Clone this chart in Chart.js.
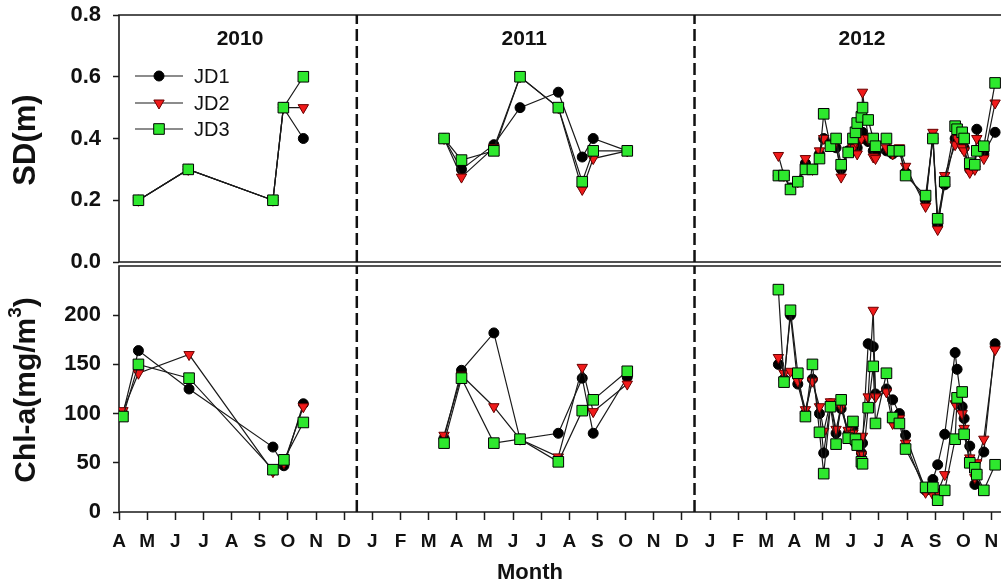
<!DOCTYPE html>
<html><head><meta charset="utf-8">
<script src="https://cdn.jsdelivr.net/npm/chart.js@4.4.1/dist/chart.umd.min.js"></script>
<style>
html,body{margin:0;padding:0;background:#fff;}
#wrap{position:relative;width:1001px;height:585px;overflow:hidden;}
canvas{position:absolute;left:0;top:0;}
</style></head><body>
<div id="wrap"><canvas id="cBot" width="1001" height="585"></canvas><canvas id="cTop" width="1001" height="585"></canvas></div>
<script>
// ---------- DATA ----------
const monthLabels = ['A','M','J','J','A','S','O','N','D','J','F','M','A','M','J','J','A','S','O','N','D','J','F','M','A','M','J','J','A','S','O','N'];
const yearTitles = ['2010','2011','2012'];
const yearBreaks = [8.45, 20.45];
const seriesNames = ['JD1','JD2','JD3'];
const sdTicks = [0, 0.2, 0.4, 0.6, 0.8];
const chlTicks = [0, 50, 100, 150, 200];

// month index (0 = April 2010); null separates years
const sdDates = [0.69, 2.46, 5.47, 5.84, 6.55, null,
  11.55, 12.17, 13.32, 14.25, 15.61, 16.46, 16.85, 18.06, null,
  23.43, 23.63, 23.86, 24.12, 24.39, 24.64, 24.89, 25.04, 25.28, 25.48, 25.66, 25.91, 26.08, 26.17, 26.23, 26.38, 26.42, 26.62, 26.80, 26.88, 27.27, 27.49, 27.73, 27.95, 28.66, 28.92, 29.09, 29.34, 29.71, 29.78, 29.96, 30.03, 30.23, 30.41, 30.48, 30.73, 31.13];
const sdJD1 = [0.2, 0.3, 0.2, 0.5, 0.4, null,
  0.40, 0.30, 0.38, 0.50, 0.55, 0.34, 0.40, 0.36, null,
  0.28, 0.28, 0.24, 0.26, 0.32, 0.30, 0.35, 0.40, 0.38, 0.37, 0.30, 0.36, 0.38, 0.36, 0.37, 0.40, 0.42, 0.39, 0.36, 0.35, 0.36, 0.35, 0.36, 0.29, 0.20, 0.40, 0.12, 0.25, 0.40, 0.39, 0.38, 0.37, 0.30, 0.31, 0.43, 0.35, 0.42];
const sdJD2 = [0.2, 0.3, 0.2, 0.5, 0.5, null,
  0.40, 0.275, 0.37, 0.60, 0.50, 0.235, 0.335, 0.36, null,
  0.345, 0.28, 0.24, 0.26, 0.335, 0.30, 0.36, 0.40, 0.38, 0.39, 0.275, 0.36, 0.37, 0.39, 0.35, 0.40, 0.55, 0.40, 0.34, 0.335, 0.37, 0.35, 0.37, 0.31, 0.18, 0.42, 0.105, 0.28, 0.38, 0.40, 0.37, 0.36, 0.29, 0.30, 0.40, 0.335, 0.515];
const sdJD3 = [0.2, 0.3, 0.2, 0.5, 0.6, null,
  0.40, 0.33, 0.36, 0.60, 0.50, 0.26, 0.36, 0.36, null,
  0.28, 0.28, 0.235, 0.26, 0.30, 0.30, 0.335, 0.48, 0.375, 0.40, 0.315, 0.355, 0.40, 0.42, 0.45, 0.47, 0.50, 0.46, 0.40, 0.375, 0.40, 0.36, 0.36, 0.28, 0.215, 0.40, 0.14, 0.26, 0.44, 0.43, 0.42, 0.40, 0.32, 0.315, 0.36, 0.375, 0.58];

const chlDates = [0.14, 0.69, 2.49, 5.47, 5.86, 6.55, null,
  11.55, 12.17, 13.32, 14.25, 15.61, 16.46, 16.85, 18.06, null,
  23.43, 23.63, 23.86, 24.12, 24.39, 24.64, 24.89, 25.04, 25.28, 25.48, 25.66, 25.91, 26.08, 26.17, 26.23, 26.38, 26.42, 26.62, 26.80, 26.88, 27.27, 27.49, 27.73, 27.95, 28.66, 28.92, 29.09, 29.34, 29.71, 29.78, 29.96, 30.03, 30.23, 30.41, 30.48, 30.73, 31.13];
const chlJD1 = [100, 164, 125, 66, 47, 110, null,
  75, 144, 182, 74, 80, 136, 80, 137, null,
  150, 135, 200, 130, 100, 135, 100, 60, 110, 80, 105, 80, 85, 70, 75, 60, 70, 171, 168, 120, 125, 114, 100, 78, 22, 33, 48, 79, 162, 145, 107, 95, 67, 28, 40, 61, 171];
const chlJD2 = [103, 141, 160, 41, 50, 107, null,
  78, 139, 107, 74, 56, 147, 102, 130, null,
  157, 141, 143, 133, 104, 133, 107, 82, 112, 84, 107, 83, 80, 75, 72, 58, 77, 117, 205, 117, 122, 90, 95, 70, 20, 18, 20, 38, 110, 115, 100, 85, 55, 35, 50, 74, 165];
const chlJD3 = [97, 150, 136, 43, 53, 91, null,
  70, 136, 70, 74, 51, 103, 114, 143, null,
  226, 132, 205, 141, 97, 150, 81, 39, 107, 69, 114, 75, 92, 74, 68, 51, 49, 106, 148, 90, 141, 96, 90, 64, 25, 25, 12, 22, 74, 116, 122, 79, 50, 45, 38, 22, 48];

// ---------- STYLE ----------
const FONT = "'Liberation Sans', Arial, sans-serif";
const INK = '#1a1a1a';
const X_MIN = 0, X_MAX = 31.34;
const styles = [
  { pointStyle: 'circle', pointRadius: 5, pointBackgroundColor: '#000', pointBorderColor: '#000', pointRotation: 0, order: 3 },
  { pointStyle: 'triangle', pointRadius: 6, pointBackgroundColor: '#f01a1a', pointBorderColor: '#6a0000', pointRotation: 180, order: 2 },
  { pointStyle: 'rect', pointRadius: 7.5, pointBackgroundColor: '#2ee82e', pointBorderColor: '#000', pointRotation: 0, order: 1 }
];

function toPoints(dates, vals) {
  return dates.map((d, i) => ({ x: d === null ? dates[i - 1] + 0.01 : d, y: d === null ? null : vals[i] }));
}
function seriesSets(dates, lists) {
  return lists.map((vals, k) => Object.assign({
    label: seriesNames[k], data: toPoints(dates, vals),
    borderColor: INK, borderWidth: 1.2, pointBorderWidth: 1, tension: 0, spanGaps: false, fill: false
  }, styles[k]));
}
function breakSets(ymin, ymax) {
  return yearBreaks.map(b => ({
    label: 'break', data: [{ x: b, y: ymin }, { x: b, y: ymax }],
    borderColor: '#111', borderWidth: 2.5, borderDash: [12, 5], pointRadius: 0, order: 10, clip: false
  }));
}
function xScale(show) {
  return {
    type: 'linear', min: X_MIN, max: X_MAX, display: show,
    afterBuildTicks: s => { s.ticks = monthLabels.map((_, i) => ({ value: i })); },
    afterFit: s => { s.paddingLeft = 0; s.paddingRight = 0; if (show) s.height = 73; },
    grid: { drawOnChartArea: false, drawTicks: true, tickLength: 8, tickColor: INK, tickWidth: 1.5 },
    border: { display: false },
    ticks: { autoSkip: false, maxRotation: 0, minRotation: 0, padding: 10, color: '#111',
      font: { family: FONT, size: 19, weight: 'bold' }, callback: v => monthLabels[Math.round(v)] }
  };
}
function yScale(min, max, ticks, fmt) {
  return {
    type: 'linear', min: min, max: max,
    afterBuildTicks: s => { s.ticks = ticks.map(v => ({ value: v })); },
    afterFit: s => { s.width = 119; s.paddingTop = 0; s.paddingBottom = 0; },
    grid: { drawOnChartArea: false, drawTicks: true, tickLength: 6, tickColor: INK, tickWidth: 1.5 },
    border: { display: false },
    ticks: { padding: 12, color: '#111', font: { family: FONT, size: 22, weight: 'bold' }, callback: fmt }
  };
}
const framePlugin = {
  id: 'frame',
  beforeDatasetsDraw(chart) {
    const { ctx, chartArea: a } = chart;
    ctx.save(); ctx.strokeStyle = INK; ctx.lineWidth = 1.6;
    ctx.beginPath();
    ctx.moveTo(a.right + 5, a.top); ctx.lineTo(a.left, a.top); ctx.lineTo(a.left, a.bottom); ctx.lineTo(a.right + 5, a.bottom);
    ctx.stroke(); ctx.restore();
  }
};
function drawMarker(ctx, k, x, y) {
  const s = styles[k];
  ctx.save();
  ctx.fillStyle = s.pointBackgroundColor; ctx.strokeStyle = s.pointBorderColor; ctx.lineWidth = 1;
  ctx.beginPath();
  if (s.pointStyle === 'circle') { ctx.arc(x, y, s.pointRadius, 0, Math.PI * 2); }
  else if (s.pointStyle === 'rect') { const h = s.pointRadius * Math.SQRT1_2; ctx.rect(x - h, y - h, 2 * h, 2 * h); }
  else { const r = s.pointRadius; ctx.moveTo(x, y + r); ctx.lineTo(x - r * 0.866, y - r * 0.5); ctx.lineTo(x + r * 0.866, y - r * 0.5); ctx.closePath(); }
  ctx.fill(); ctx.stroke(); ctx.restore();
}
const topText = {
  id: 'topText',
  afterDraw(chart) {
    const ctx = chart.ctx; const xs = chart.scales.x;
    ctx.save();
    ctx.fillStyle = '#111'; ctx.textAlign = 'center'; ctx.textBaseline = 'middle';
    ctx.font = "bold 21px " + FONT;
    const titleAt = [4.3, 14.4, 26.4];
    yearTitles.forEach((t, i) => ctx.fillText(t, xs.getPixelForValue(titleAt[i]), 39));
    // legend
    const ly = [76, 103, 129];
    seriesNames.forEach((n, k) => {
      ctx.strokeStyle = INK; ctx.lineWidth = 1.2;
      ctx.beginPath(); ctx.moveTo(135, ly[k]); ctx.lineTo(183, ly[k]); ctx.stroke();
      drawMarker(ctx, k, 159, ly[k]);
      ctx.fillStyle = '#111'; ctx.textAlign = 'left'; ctx.font = "20px " + FONT;
      ctx.fillText(n, 194, ly[k] + 1);
    });
    // y title
    ctx.translate(26, 140); ctx.rotate(-Math.PI / 2);
    ctx.textAlign = 'center'; ctx.font = "bold 31px " + FONT;
    ctx.fillText('SD(m)', 0, 0);
    ctx.restore();
  }
};
const botText = {
  id: 'botText',
  afterDraw(chart) {
    const ctx = chart.ctx;
    ctx.save();
    ctx.fillStyle = '#111'; ctx.textBaseline = 'middle';
    ctx.textAlign = 'center'; ctx.font = "bold 22px " + FONT;
    ctx.fillText('Month', 530, 573);
    ctx.translate(27, 390); ctx.rotate(-Math.PI / 2);
    const main = 'Chl-a(mg/m', sup = '3', end = ')';
    const fMain = "bold 30px " + FONT, fSup = "bold 19px " + FONT;
    ctx.font = fMain; const w1 = ctx.measureText(main).width, w3 = ctx.measureText(end).width;
    ctx.font = fSup; const w2 = ctx.measureText(sup).width;
    let x0 = -(w1 + w2 + w3) / 2;
    ctx.textAlign = 'left';
    ctx.font = fMain; ctx.fillText(main, x0, 0);
    ctx.font = fSup; ctx.fillText(sup, x0 + w1, -11);
    ctx.font = fMain; ctx.fillText(end, x0 + w1 + w2, 0);
    ctx.restore();
  }
};
const base = { responsive: false, animation: false, devicePixelRatio: 1,
  plugins: { legend: { display: false }, tooltip: { enabled: false } } };

new Chart(document.getElementById('cTop'), {
  type: 'line',
  data: { datasets: [...breakSets(0, 0.8), ...seriesSets(sdDates, [sdJD1, sdJD2, sdJD3])] },
  options: Object.assign({}, base, {
    layout: { autoPadding: false, padding: { left: 0, right: 0, top: 15, bottom: 323 } },
    scales: { x: xScale(false), y: yScale(0, 0.8, sdTicks, v => v.toFixed(1)) }
  }),
  plugins: [framePlugin, topText]
});
new Chart(document.getElementById('cBot'), {
  type: 'line',
  data: { datasets: [...breakSets(0, 250), ...seriesSets(chlDates, [chlJD1, chlJD2, chlJD3])] },
  options: Object.assign({}, base, {
    layout: { autoPadding: false, padding: { left: 0, right: 0, top: 266, bottom: 0 } },
    scales: { x: xScale(true), y: yScale(0, 250, chlTicks, v => String(v)) }
  }),
  plugins: [framePlugin, botText]
});
</script>
</body></html>
